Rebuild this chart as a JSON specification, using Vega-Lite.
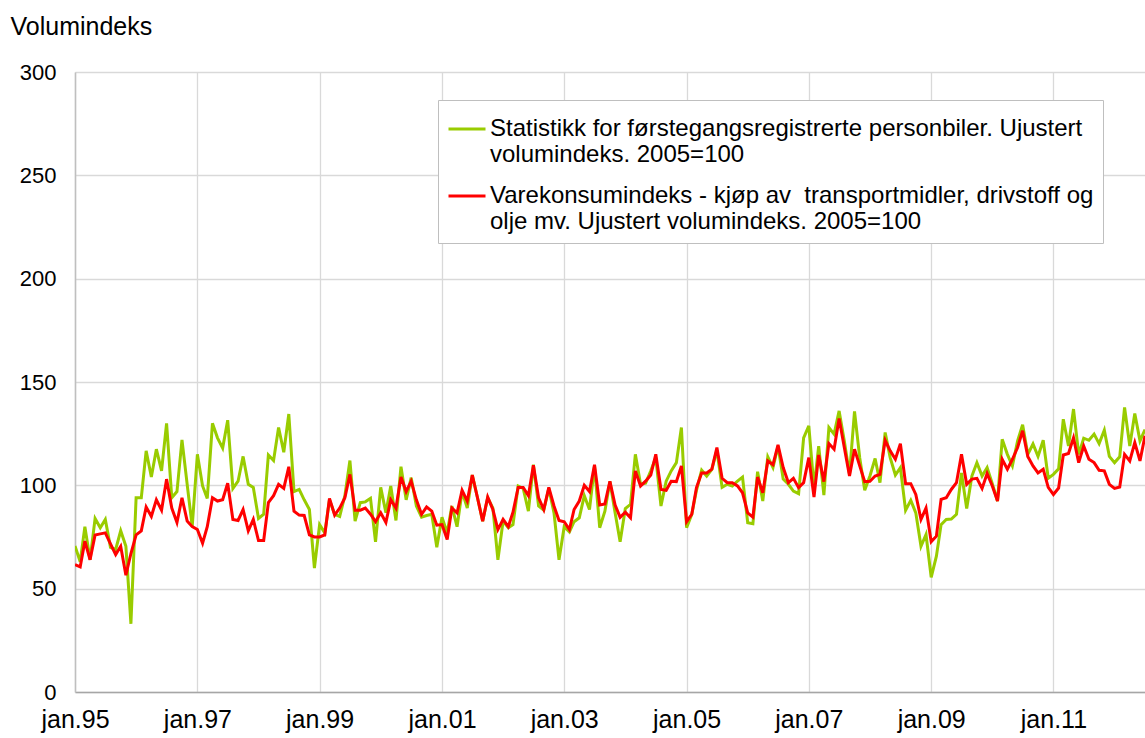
{
  "$schema": "https://vega.github.io/schema/vega-lite/v6.json",
  "width": 1070,
  "height": 620,
  "autosize": {"type": "none"},
  "padding": {"left": 75, "top": 72, "right": 0, "bottom": 46},
  "background": "white",
  "config": {
    "font": "Liberation Sans",
    "view": {"stroke": null},
    "axis": {"labelFont": "Liberation Sans", "titleFont": "Liberation Sans"},
    "legend": {"labelFont": "Liberation Sans"}
  },
  "data": {
    "values": [
{"d":"1995-01-01","G":70.6,"R":61.6},{"d":"1995-02-01","G":63,"R":60.5},{"d":"1995-03-01","G":80,"R":73},{"d":"1995-04-01","G":64,"R":64},{"d":"1995-05-01","G":84,"R":76},{"d":"1995-06-01","G":79.5,"R":76.5},{"d":"1995-07-01","G":83.5,"R":77},{"d":"1995-08-01","G":70,"R":71.7},{"d":"1995-09-01","G":69,"R":66.5},{"d":"1995-10-01","G":78,"R":70.5},{"d":"1995-11-01","G":70.5,"R":56.5},{"d":"1995-12-01","G":33,"R":67},
{"d":"1996-01-01","G":94,"R":76},{"d":"1996-02-01","G":94,"R":78},{"d":"1996-03-01","G":116.7,"R":89.5},{"d":"1996-04-01","G":104,"R":85},{"d":"1996-05-01","G":117.5,"R":93},{"d":"1996-06-01","G":107,"R":88},{"d":"1996-07-01","G":130,"R":103},{"d":"1996-08-01","G":94,"R":89},{"d":"1996-09-01","G":97,"R":82},{"d":"1996-10-01","G":122,"R":94},{"d":"1996-11-01","G":100.5,"R":82.7},{"d":"1996-12-01","G":80,"R":80},
{"d":"1997-01-01","G":115,"R":78.6},{"d":"1997-02-01","G":99.7,"R":72},{"d":"1997-03-01","G":93.7,"R":80},{"d":"1997-04-01","G":130,"R":94},{"d":"1997-05-01","G":123,"R":92.4},{"d":"1997-06-01","G":118,"R":93},{"d":"1997-07-01","G":131.5,"R":101},{"d":"1997-08-01","G":98.5,"R":83.5},{"d":"1997-09-01","G":102,"R":83},{"d":"1997-10-01","G":114,"R":88.3},{"d":"1997-11-01","G":100.5,"R":78},{"d":"1997-12-01","G":99,"R":83.5},
{"d":"1998-01-01","G":84,"R":73.3},{"d":"1998-02-01","G":86,"R":73.3},{"d":"1998-03-01","G":114.7,"R":91.6},{"d":"1998-04-01","G":112,"R":95},{"d":"1998-05-01","G":128,"R":100.5},{"d":"1998-06-01","G":116,"R":98.5},{"d":"1998-07-01","G":134.5,"R":109},{"d":"1998-08-01","G":97,"R":87.5},{"d":"1998-09-01","G":98,"R":85.6},{"d":"1998-10-01","G":93,"R":85.4},{"d":"1998-11-01","G":88.3,"R":76},{"d":"1998-12-01","G":60,"R":75},
{"d":"1999-01-01","G":81,"R":75},{"d":"1999-02-01","G":77,"R":76},{"d":"1999-03-01","G":93,"R":93.7},{"d":"1999-04-01","G":86,"R":85.6},{"d":"1999-05-01","G":85,"R":89},{"d":"1999-06-01","G":95,"R":94},{"d":"1999-07-01","G":112,"R":105.3},{"d":"1999-08-01","G":82.7,"R":88},{"d":"1999-09-01","G":91.6,"R":88},{"d":"1999-10-01","G":92,"R":89},{"d":"1999-11-01","G":93.7,"R":86},{"d":"1999-12-01","G":72.7,"R":82.4},
{"d":"2000-01-01","G":99,"R":86.7},{"d":"2000-02-01","G":86.7,"R":82},{"d":"2000-03-01","G":99.7,"R":93},{"d":"2000-04-01","G":83,"R":89},{"d":"2000-05-01","G":109,"R":104},{"d":"2000-06-01","G":93,"R":97},{"d":"2000-07-01","G":103.7,"R":102},{"d":"2000-08-01","G":90,"R":93},{"d":"2000-09-01","G":84.6,"R":86},{"d":"2000-10-01","G":85.4,"R":89.5},{"d":"2000-11-01","G":86,"R":87.5},{"d":"2000-12-01","G":70,"R":80.7},
{"d":"2001-01-01","G":84.6,"R":81},{"d":"2001-02-01","G":77,"R":73.8},{"d":"2001-03-01","G":90,"R":89},{"d":"2001-04-01","G":80,"R":86.7},{"d":"2001-05-01","G":97,"R":97.6},{"d":"2001-06-01","G":89,"R":92.4},{"d":"2001-07-01","G":105,"R":105},{"d":"2001-08-01","G":94,"R":94},{"d":"2001-09-01","G":82.7,"R":82.7},{"d":"2001-10-01","G":94,"R":94.3},{"d":"2001-11-01","G":89,"R":88.3},{"d":"2001-12-01","G":64,"R":78.6},
{"d":"2002-01-01","G":82.7,"R":83.5},{"d":"2002-02-01","G":79.5,"R":80},{"d":"2002-03-01","G":81,"R":87},{"d":"2002-04-01","G":99.7,"R":99},{"d":"2002-05-01","G":98.5,"R":99},{"d":"2002-06-01","G":87.5,"R":95},{"d":"2002-07-01","G":110,"R":109.7},{"d":"2002-08-01","G":90,"R":94},{"d":"2002-09-01","G":88,"R":88.3},{"d":"2002-10-01","G":98.5,"R":99},{"d":"2002-11-01","G":86.7,"R":90},{"d":"2002-12-01","G":64,"R":83},
{"d":"2003-01-01","G":80,"R":82.4},{"d":"2003-02-01","G":77.5,"R":78.6},{"d":"2003-03-01","G":82.4,"R":88.3},{"d":"2003-04-01","G":84.3,"R":92.4},{"d":"2003-05-01","G":95,"R":100},{"d":"2003-06-01","G":88.3,"R":97},{"d":"2003-07-01","G":109.4,"R":110},{"d":"2003-08-01","G":79.5,"R":90.5},{"d":"2003-09-01","G":87.5,"R":91},{"d":"2003-10-01","G":101.8,"R":102},{"d":"2003-11-01","G":86.7,"R":90.5},{"d":"2003-12-01","G":72.7,"R":84.5},
{"d":"2004-01-01","G":88.8,"R":87},{"d":"2004-02-01","G":90.8,"R":84.3},{"d":"2004-03-01","G":115,"R":107},{"d":"2004-04-01","G":100.5,"R":99.7},{"d":"2004-05-01","G":101,"R":102},{"d":"2004-06-01","G":107,"R":105},{"d":"2004-07-01","G":113.4,"R":115},{"d":"2004-08-01","G":90,"R":98},{"d":"2004-09-01","G":102,"R":97.6},{"d":"2004-10-01","G":107,"R":102},{"d":"2004-11-01","G":111,"R":101.8},{"d":"2004-12-01","G":128,"R":109.4},
{"d":"2005-01-01","G":79.5,"R":82.4},{"d":"2005-02-01","G":86,"R":86},{"d":"2005-03-01","G":97.6,"R":98.9},{"d":"2005-04-01","G":107.3,"R":106},{"d":"2005-05-01","G":104.5,"R":106},{"d":"2005-06-01","G":107.8,"R":107.8},{"d":"2005-07-01","G":117,"R":118.3},{"d":"2005-08-01","G":99,"R":103.4},{"d":"2005-09-01","G":100.5,"R":101.3},{"d":"2005-10-01","G":99.7,"R":101.3},{"d":"2005-11-01","G":102,"R":99.7},{"d":"2005-12-01","G":104,"R":96.4},
{"d":"2006-01-01","G":81.9,"R":86.7},{"d":"2006-02-01","G":81.4,"R":84.6},{"d":"2006-03-01","G":106.6,"R":104},{"d":"2006-04-01","G":92.4,"R":96.4},{"d":"2006-05-01","G":113.8,"R":111.8},{"d":"2006-06-01","G":108.6,"R":110},{"d":"2006-07-01","G":119,"R":119.6},{"d":"2006-08-01","G":103,"R":108.6},{"d":"2006-09-01","G":100.5,"R":101.3},{"d":"2006-10-01","G":97.2,"R":103.4},{"d":"2006-11-01","G":96,"R":98.9},{"d":"2006-12-01","G":123,"R":101.3},
{"d":"2007-01-01","G":128.8,"R":113.4},{"d":"2007-02-01","G":98.9,"R":94.3},{"d":"2007-03-01","G":119,"R":114.7},{"d":"2007-04-01","G":95.3,"R":101.8},{"d":"2007-05-01","G":128,"R":120.2},{"d":"2007-06-01","G":124.8,"R":117.5},{"d":"2007-07-01","G":136,"R":132.3},{"d":"2007-08-01","G":121.5,"R":118.3},{"d":"2007-09-01","G":105.3,"R":104.5},{"d":"2007-10-01","G":135.8,"R":117.5},{"d":"2007-11-01","G":113.4,"R":109.4},{"d":"2007-12-01","G":97.6,"R":101.8},
{"d":"2008-01-01","G":104.5,"R":102},{"d":"2008-02-01","G":113,"R":104.5},{"d":"2008-03-01","G":101.3,"R":105.3},{"d":"2008-04-01","G":125.6,"R":121.8},{"d":"2008-05-01","G":113.4,"R":116.7},{"d":"2008-06-01","G":105,"R":112.6},{"d":"2008-07-01","G":108.6,"R":120.2},{"d":"2008-08-01","G":87.9,"R":100.8},{"d":"2008-09-01","G":92.7,"R":100.8},{"d":"2008-10-01","G":86.7,"R":95.6},{"d":"2008-11-01","G":70.5,"R":83.5},{"d":"2008-12-01","G":76.2,"R":89},
{"d":"2009-01-01","G":55.5,"R":72.7},{"d":"2009-02-01","G":65.7,"R":75.4},{"d":"2009-03-01","G":81,"R":93.2},{"d":"2009-04-01","G":83.5,"R":94},{"d":"2009-05-01","G":83.7,"R":98},{"d":"2009-06-01","G":86,"R":101.3},{"d":"2009-07-01","G":106,"R":115},{"d":"2009-08-01","G":88.8,"R":100.5},{"d":"2009-09-01","G":104.5,"R":103},{"d":"2009-10-01","G":111,"R":103.4},{"d":"2009-11-01","G":104.5,"R":98.5},{"d":"2009-12-01","G":108.6,"R":105.7},
{"d":"2010-01-01","G":100.8,"R":99.7},{"d":"2010-02-01","G":92.4,"R":92.4},{"d":"2010-03-01","G":122.3,"R":112.6},{"d":"2010-04-01","G":115,"R":107.8},{"d":"2010-05-01","G":109.4,"R":112.6},{"d":"2010-06-01","G":121.5,"R":118.3},{"d":"2010-07-01","G":129.3,"R":126.4},{"d":"2010-08-01","G":115,"R":114},{"d":"2010-09-01","G":120,"R":109.4},{"d":"2010-10-01","G":114,"R":106},{"d":"2010-11-01","G":121.8,"R":107.8},{"d":"2010-12-01","G":103.4,"R":99},
{"d":"2011-01-01","G":105.3,"R":95.6},{"d":"2011-02-01","G":108,"R":98.7},{"d":"2011-03-01","G":132,"R":114.7},{"d":"2011-04-01","G":119,"R":115.4},{"d":"2011-05-01","G":136.9,"R":123},{"d":"2011-06-01","G":115,"R":111},{"d":"2011-07-01","G":122.8,"R":119},{"d":"2011-08-01","G":121.8,"R":112.6},{"d":"2011-09-01","G":124.8,"R":111},{"d":"2011-10-01","G":120.2,"R":107.3},{"d":"2011-11-01","G":126.7,"R":107},{"d":"2011-12-01","G":114,"R":100.5},
{"d":"2012-01-01","G":111,"R":98.5},{"d":"2012-02-01","G":113.8,"R":99.2},{"d":"2012-03-01","G":137.7,"R":115},{"d":"2012-04-01","G":119,"R":111.8},{"d":"2012-05-01","G":134.8,"R":120.7},{"d":"2012-06-01","G":121.5,"R":111.8},{"d":"2012-07-01","G":127,"R":124}
    ]
  },
  "transform": [{"fold": ["G", "R"], "as": ["serie", "verdi"]}],
  "mark": {"type": "line", "strokeWidth": 3, "clip": true},
  "encoding": {
    "x": {
      "field": "d",
      "type": "temporal",
      "scale": {
        "type": "utc",
        "domain": [{"year": 1995, "month": 1, "date": 1, "utc": true}, {"year": 2012, "month": 7, "date": 1, "utc": true}]
      },
      "axis": {
        "title": null,
        "values": [
          {"year": 1995, "month": 1, "date": 1, "utc": true},
          {"year": 1997, "month": 1, "date": 1, "utc": true},
          {"year": 1999, "month": 1, "date": 1, "utc": true},
          {"year": 2001, "month": 1, "date": 1, "utc": true},
          {"year": 2003, "month": 1, "date": 1, "utc": true},
          {"year": 2005, "month": 1, "date": 1, "utc": true},
          {"year": 2007, "month": 1, "date": 1, "utc": true},
          {"year": 2009, "month": 1, "date": 1, "utc": true},
          {"year": 2011, "month": 1, "date": 1, "utc": true}
        ],
        "labelExpr": "'jan.' + utcFormat(datum.value, '%y')",
        "labelFontSize": 25,
        "labelColor": "#000000",
        "labelPadding": 15,
        "labelFlush": false,
        "labelOverlap": false,
        "grid": true,
        "gridColor": "#d9d9d9",
        "gridWidth": 1.3,
        "domainColor": "#a6a6a6",
        "domainWidth": 1.5,
        "ticks": false
      }
    },
    "y": {
      "field": "verdi",
      "type": "quantitative",
      "scale": {"domain": [0, 300], "nice": false, "zero": true},
      "axis": {
        "values": [0, 50, 100, 150, 200, 250, 300],
        "title": "Volumindeks",
        "titleAngle": 0,
        "titleAlign": "left",
        "titleBaseline": "alphabetic",
        "titleX": -65,
        "titleY": -38,
        "titleFontSize": 25,
        "titleFontWeight": "normal",
        "titleColor": "#000000",
        "labelFontSize": 22,
        "labelColor": "#000000",
        "labelPadding": 19,
        "grid": true,
        "gridColor": "#d9d9d9",
        "gridWidth": 1.3,
        "domainColor": "#bfbfbf",
        "domainWidth": 1.5,
        "ticks": false
      }
    },
    "color": {
      "field": "serie",
      "type": "nominal",
      "scale": {"domain": ["G", "R"], "range": ["#99cc00", "#ff0000"]},
      "legend": {
        "title": null,
        "orient": "none",
        "legendX": 363,
        "legendY": 28,
        "direction": "vertical",
        "fillColor": "white",
        "strokeColor": "#bfbfbf",
        "padding": 9,
        "symbolType": "stroke",
        "symbolSize": 1369,
        "symbolStrokeWidth": 3,
        "labelFontSize": 24,
        "labelColor": "#000000",
        "labelLimit": 900,
        "labelOffset": 3,
        "labelBaseline": "middle",
        "rowPadding": 9,
        "labelExpr": "datum.label == 'G' ? ['Statistikk for førstegangsregistrerte personbiler. Ujustert', 'volumindeks. 2005=100'] : ['Varekonsumindeks - kjøp av\u00a0 transportmidler, drivstoff og', 'olje mv. Ujustert volumindeks. 2005=100']"
      }
    }
  }
}
